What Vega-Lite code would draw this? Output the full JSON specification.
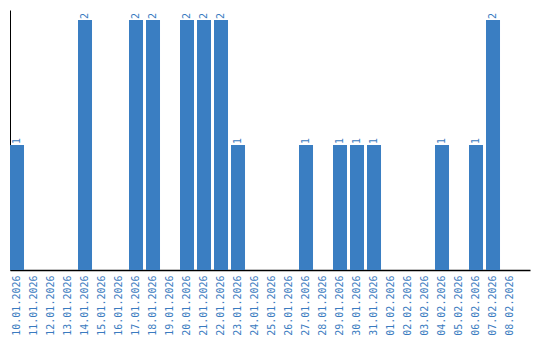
{
  "$schema": "https://vega.github.io/schema/vega-lite/v6.json",
  "width": 520,
  "height": 260,
  "autosize": "none",
  "padding": {"left": 10, "top": 10, "right": 10, "bottom": 70},
  "background": "white",
  "config": {"view": {"stroke": null}, "font": "DejaVu Sans Mono"},
  "data": {"values": [
    {"date": "10.01.2026", "count": 1},
    {"date": "11.01.2026", "count": 0},
    {"date": "12.01.2026", "count": 0},
    {"date": "13.01.2026", "count": 0},
    {"date": "14.01.2026", "count": 2},
    {"date": "15.01.2026", "count": 0},
    {"date": "16.01.2026", "count": 0},
    {"date": "17.01.2026", "count": 2},
    {"date": "18.01.2026", "count": 2},
    {"date": "19.01.2026", "count": 0},
    {"date": "20.01.2026", "count": 2},
    {"date": "21.01.2026", "count": 2},
    {"date": "22.01.2026", "count": 2},
    {"date": "23.01.2026", "count": 1},
    {"date": "24.01.2026", "count": 0},
    {"date": "25.01.2026", "count": 0},
    {"date": "26.01.2026", "count": 0},
    {"date": "27.01.2026", "count": 1},
    {"date": "28.01.2026", "count": 0},
    {"date": "29.01.2026", "count": 1},
    {"date": "30.01.2026", "count": 1},
    {"date": "31.01.2026", "count": 1},
    {"date": "01.02.2026", "count": 0},
    {"date": "02.02.2026", "count": 0},
    {"date": "03.02.2026", "count": 0},
    {"date": "04.02.2026", "count": 1},
    {"date": "05.02.2026", "count": 0},
    {"date": "06.02.2026", "count": 1},
    {"date": "07.02.2026", "count": 2},
    {"date": "08.02.2026", "count": 0}
  ]},
  "encoding": {
    "x": {
      "field": "date", "type": "ordinal", "sort": null,
      "scale": {"paddingInner": 0.176, "paddingOuter": 0.382, "align": 0},
      "axis": {"title": null, "labelAngle": -90, "ticks": false, "grid": false,
               "domainColor": "#000", "domainWidth": 1.5, "labelColor": "#3a7bc0",
               "labelFontSize": 10, "labelFont": "DejaVu Sans Mono", "labelPadding": 5}
    },
    "y": {
      "field": "count", "type": "quantitative",
      "scale": {"domain": [0, 2.08], "nice": false},
      "axis": {"title": null, "labels": false, "ticks": false, "grid": false,
               "domainColor": "#000", "domainWidth": 1}
    }
  },
  "layer": [
    {"mark": {"type": "bar", "color": "#3a7ec2"}},
    {
      "transform": [{"filter": "datum.count > 0"}],
      "mark": {"type": "text", "angle": -90, "align": "left", "baseline": "middle",
               "dx": 1, "fontSize": 10, "color": "#3a7bc0", "font": "DejaVu Sans Mono"},
      "encoding": {"text": {"field": "count", "type": "quantitative"}}
    }
  ]
}
